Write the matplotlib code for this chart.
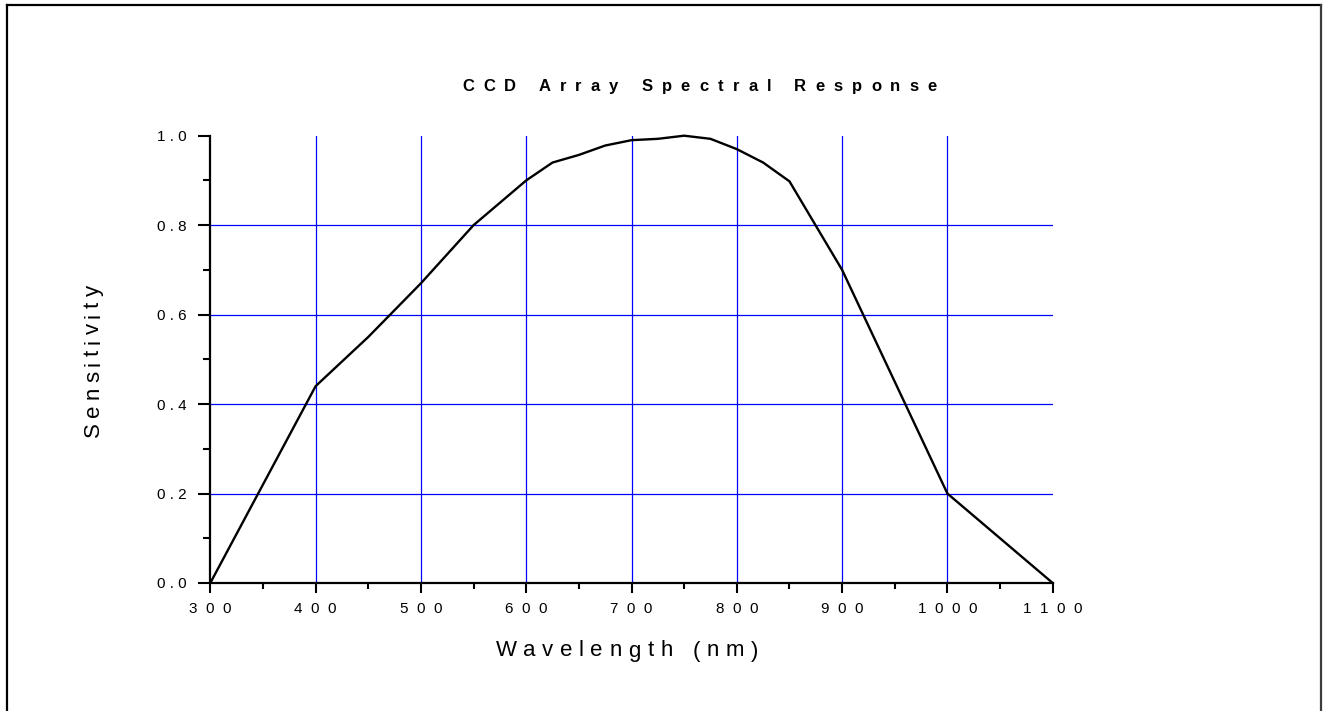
import matplotlib
matplotlib.use("Agg")
import matplotlib.pyplot as plt
from matplotlib.font_manager import FontProperties
from matplotlib.lines import Line2D

# Spectral response of the CCD array
wavelength_nm = [300, 400, 450, 500, 550, 600, 625, 650, 675, 700, 725, 750,
                 775, 800, 825, 850, 900, 1000, 1100]
sensitivity = [0.0, 0.44, 0.55, 0.67, 0.80, 0.90, 0.94, 0.957, 0.978, 0.99,
               0.993, 1.0, 0.993, 0.97, 0.94, 0.898, 0.70, 0.20, 0.0]

x_major = [300, 400, 500, 600, 700, 800, 900, 1000, 1100]
x_minor = [350, 450, 550, 650, 750, 850, 950, 1050]
y_major = [0.0, 0.2, 0.4, 0.6, 0.8, 1.0]
y_minor = [0.1, 0.3, 0.5, 0.7, 0.9]
grid_x = [400, 500, 600, 700, 800, 900, 1000]
grid_y = [0.2, 0.4, 0.6, 0.8]

title_text = "CCD Array Spectral Response"
xlabel_text = "Wavelength (nm)"
ylabel_text = "Sensitivity"

W, H = 1325, 711
FONT = "Liberation Sans"

fig = plt.figure(figsize=(W / 100, H / 100), dpi=100)
ax = fig.add_axes([210.3 / W, 1 - 583 / H, (1052.7 - 210.3) / W, (583 - 135.7) / H])

ax.set_xlim(300, 1100)
ax.set_ylim(0, 1)

for gx in grid_x:
    ax.axvline(gx, color="#0000ff", lw=0.9, zorder=1)
for gy in grid_y:
    ax.axhline(gy, color="#0000ff", lw=0.9, zorder=1)

ax.plot(wavelength_nm, sensitivity, color="black", lw=1.7, zorder=3,
        clip_on=False, solid_joinstyle="miter")

for side in ("top", "right"):
    ax.spines[side].set_visible(False)
for side in ("left", "bottom"):
    ax.spines[side].set_linewidth(1.6)
    ax.spines[side].set_color("black")

ax.set_xticks(x_major)
ax.set_xticks(x_minor, minor=True)
ax.set_yticks(y_major)
ax.set_yticks(y_minor, minor=True)


def spread(s, sep):
    return sep.join(list(s))


ax.set_xticklabels([spread(str(v), "  ") for v in x_major])
ax.set_yticklabels([spread(f"{v:.1f}", " ") for v in y_major])

ax.tick_params(axis="x", which="major", direction="out", length=7, width=1.5,
               pad=6.5, labelsize=11)
ax.tick_params(axis="x", which="minor", direction="out", length=4.5, width=1.5)
ax.tick_params(axis="y", which="major", direction="out", length=9, width=1.5,
               pad=8, labelsize=11)
ax.tick_params(axis="y", which="minor", direction="out", length=5, width=1.5)
for lbl in ax.get_xticklabels() + ax.get_yticklabels():
    lbl.set_fontfamily(FONT)

renderer = fig.canvas.get_renderer()


def tracked_text(s, x0, y0, width_px, size, weight="normal", vertical=False):
    """Draw s with even letter spacing so it spans width_px pixels.
    Horizontal text starts at (x0, y0) on its baseline; vertical text reads
    upward from (x0, y0) with its baseline at x0."""
    prop = FontProperties(family=FONT, size=size, weight=weight)

    def wid(t):
        return renderer.get_text_width_height_descent(t, prop, ismath=False)[0]

    natural = wid(s)
    track = (width_px - natural) / (len(s) - 1)
    for i, ch in enumerate(s):
        if ch == " ":
            continue
        off = wid(s[: i + 1]) - wid(ch) + i * track
        if vertical:
            fig.text(x0 / W, 1 - (y0 - off) / H, ch, fontproperties=prop,
                     rotation=90, rotation_mode="anchor",
                     ha="left", va="baseline")
        else:
            fig.text((x0 + off) / W, 1 - y0 / H, ch, fontproperties=prop,
                     ha="left", va="baseline")


tracked_text(title_text, 462, 91, 475, 12, weight="bold")
tracked_text(xlabel_text, 496, 656.5, 262, 16)
tracked_text(ylabel_text, 99, 437, 152, 16, vertical=True)

# page frame
frame_kw = dict(transform=fig.transFigure, lw=1.6, solid_capstyle="projecting")
fig.add_artist(Line2D([7.5 / W, 7.5 / W], [0, 1 - 4.5 / H], color="black", **frame_kw))
fig.add_artist(Line2D([7.5 / W, 1321 / W], [1 - 4.5 / H, 1 - 4.5 / H], color="black", **frame_kw))
fig.add_artist(Line2D([1321 / W, 1321 / W], [0, 1 - 4.5 / H], color="#3c3c3c", **frame_kw))

fig.savefig("out.png", dpi=100)
